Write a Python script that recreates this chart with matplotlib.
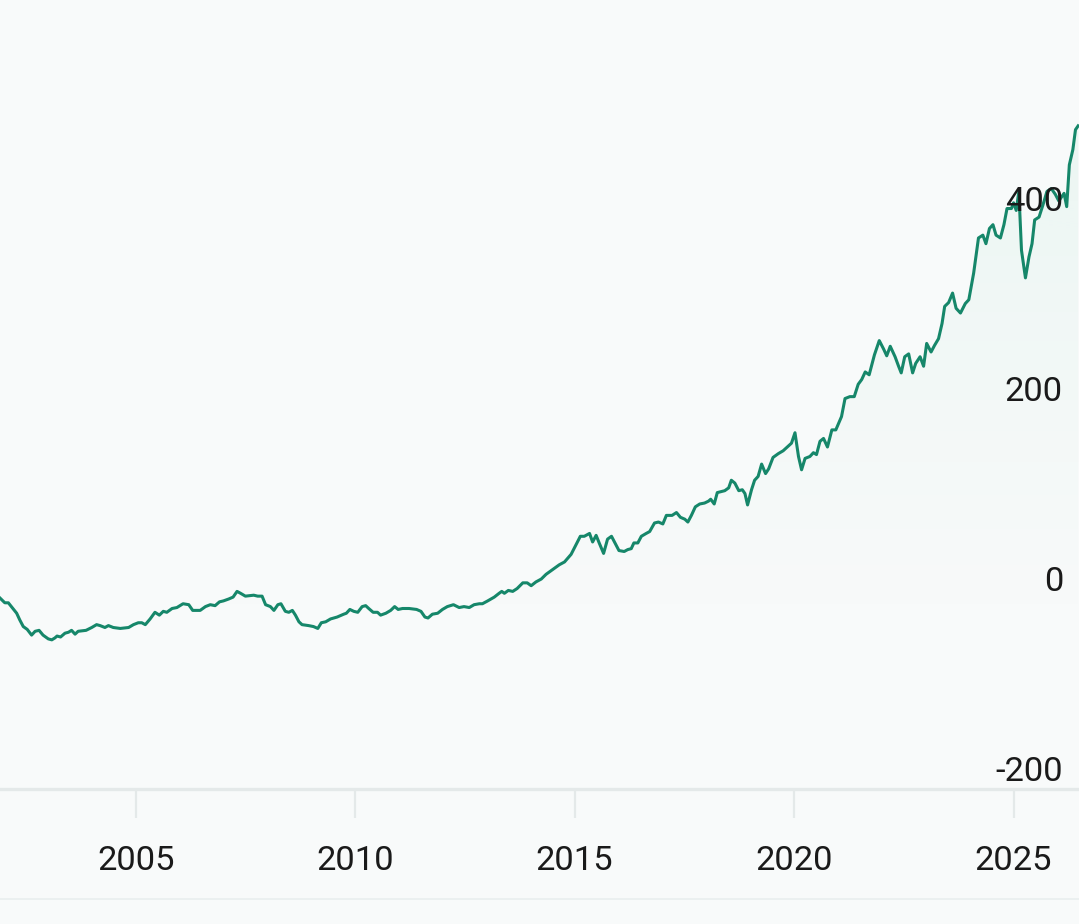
import numpy as np
import matplotlib
matplotlib.use("Agg")
import matplotlib.pyplot as plt
from matplotlib.lines import Line2D
from matplotlib.patches import Polygon

plt.rcParams['font.family'] = ['Roboto', 'DejaVu Sans']

# ---- data (decimal year, value) ----
years = [
    2001.91, 2002.02, 2002.10, 2002.17, 2002.29, 2002.36, 2002.44, 2002.53, 2002.63, 2002.71,
    2002.80, 2002.89, 2003.01, 2003.09, 2003.16, 2003.21, 2003.29, 2003.39, 2003.47, 2003.54,
    2003.62, 2003.69, 2003.87, 2004.00, 2004.11, 2004.19, 2004.30, 2004.38, 2004.49, 2004.65,
    2004.84, 2004.95, 2005.06, 2005.14, 2005.22, 2005.33, 2005.44, 2005.54, 2005.63, 2005.71,
    2005.83, 2005.94, 2006.08, 2006.21, 2006.30, 2006.47, 2006.59, 2006.70, 2006.81, 2006.91,
    2007.00, 2007.12, 2007.22, 2007.31, 2007.39, 2007.50, 2007.69, 2007.78, 2007.88, 2007.96,
    2008.07, 2008.15, 2008.24, 2008.31, 2008.41, 2008.49, 2008.57, 2008.64, 2008.72, 2008.79,
    2008.94, 2009.05, 2009.15, 2009.23, 2009.33, 2009.44, 2009.59, 2009.74, 2009.80, 2009.88,
    2009.97, 2010.06, 2010.16, 2010.24, 2010.31, 2010.41, 2010.51, 2010.58, 2010.70, 2010.81,
    2010.90, 2010.98, 2011.08, 2011.23, 2011.40, 2011.50, 2011.59, 2011.66, 2011.76, 2011.88,
    2011.99, 2012.10, 2012.24, 2012.37, 2012.48, 2012.60, 2012.71, 2012.83, 2012.90, 2013.02,
    2013.17, 2013.28, 2013.34, 2013.40, 2013.49, 2013.59, 2013.69, 2013.82, 2013.92, 2014.01,
    2014.12, 2014.24, 2014.35, 2014.50, 2014.65, 2014.77, 2014.92, 2015.03, 2015.13, 2015.22,
    2015.34, 2015.41, 2015.49, 2015.56, 2015.66, 2015.75, 2015.84, 2015.92, 2016.01, 2016.13,
    2016.21, 2016.29, 2016.35, 2016.44, 2016.52, 2016.63, 2016.71, 2016.82, 2016.91, 2017.01,
    2017.09, 2017.22, 2017.32, 2017.41, 2017.51, 2017.58, 2017.66, 2017.75, 2017.85, 2017.96,
    2018.05, 2018.10, 2018.18, 2018.25, 2018.34, 2018.42, 2018.51, 2018.57, 2018.65, 2018.74,
    2018.82, 2018.88, 2018.94, 2019.03, 2019.10, 2019.18, 2019.26, 2019.35, 2019.42, 2019.52,
    2019.64, 2019.75, 2019.87, 2019.94, 2020.02, 2020.10, 2020.17, 2020.25, 2020.36, 2020.44,
    2020.51, 2020.59, 2020.67, 2020.76, 2020.86, 2020.95, 2021.08, 2021.16, 2021.27, 2021.37,
    2021.46, 2021.54, 2021.62, 2021.71, 2021.83, 2021.94, 2022.04, 2022.11, 2022.19, 2022.30,
    2022.38, 2022.44, 2022.52, 2022.61, 2022.70, 2022.77, 2022.87, 2022.95, 2023.02, 2023.12,
    2023.20, 2023.29, 2023.37, 2023.43, 2023.52, 2023.61, 2023.69, 2023.79, 2023.90, 2023.98,
    2024.09, 2024.20, 2024.30, 2024.37, 2024.45, 2024.53, 2024.60, 2024.70, 2024.78, 2024.85,
    2024.95, 2025.00, 2025.06, 2025.12, 2025.18, 2025.27, 2025.35, 2025.42, 2025.48, 2025.58,
    2025.67, 2025.76, 2025.86, 2025.95, 2026.03, 2026.15, 2026.21, 2026.27, 2026.35, 2026.41,
    2026.47,
]
values = [
    1, -4, -4, -8, -15, -22, -29, -32, -38, -34,
    -33, -38, -42, -43, -41, -39, -40, -36, -35, -33,
    -37, -34, -33, -30, -27, -28, -30, -28, -30, -31,
    -30, -27, -25, -25, -27, -21, -14, -17, -13, -14,
    -10, -9, -5, -6, -12, -12, -8, -6, -7, -3,
    -2, 0, 2, 8, 6, 3, 4, 3, 3, -6,
    -8, -12, -6, -5, -13, -14, -12, -17, -24, -27,
    -28, -29, -31, -25, -24, -21, -19, -16, -15, -11,
    -13, -14, -8, -7, -10, -14, -14, -17, -15, -12,
    -8, -11, -10, -10, -11, -13, -19, -20, -16, -15,
    -11, -8, -6, -9, -8, -9, -6, -5, -5, -2,
    2, 6, 8, 6, 9, 8, 11, 17, 17, 14,
    18, 21, 26, 31, 36, 39, 47, 57, 66, 66,
    69, 60, 67, 59, 48, 63, 66, 59, 51, 50,
    52, 53, 59, 59, 66, 69, 71, 80, 81, 79,
    88, 88, 91, 86, 84, 81, 88, 97, 100, 101,
    103, 105, 100, 112, 113, 114, 117, 125, 122, 114,
    115, 111, 99, 115, 125, 129, 142, 132, 137, 149,
    153, 156, 161, 164, 175, 150, 136, 148, 150, 154,
    152, 166, 169, 160, 178, 178, 192, 211, 213, 213,
    226, 231, 239, 236, 257, 272, 263, 256, 266, 255,
    245, 238, 255, 258, 238, 248, 255, 245, 269, 260,
    267, 274, 290, 308, 312, 322, 306, 301, 311, 315,
    343, 380, 383, 374, 390, 394, 383, 380, 394, 411,
    411, 417, 409, 429, 367, 338, 360, 374, 399, 402,
    415, 429, 432, 426, 419, 427, 413, 457, 473, 494,
    498,
]
x_ticks = [2005, 2010, 2015, 2020, 2025]
x_tick_labels = ["2005", "2010", "2015", "2020", "2025"]
y_ticks = [-200, 0, 200, 400]
y_tick_labels = ["-200", "0", "200", "400"]

BG = "#f8fafa"
LINE = "#16876a"
FILL = "#34c08a"
GRID = "#e4e9e9"
TXT = "#1a1a1a"
FS = 24.8

W, H = 1079, 924
fig = plt.figure(figsize=(W / 100, H / 100), dpi=100, facecolor=BG)
ax = fig.add_axes([0, 1 - 789 / H, 1, 789 / H])
ax.set_facecolor(BG)

x = np.array(years)
y = np.array(values)
xmin, xmax = 2001.91, 2026.49
ymin, ymax = -200, 630.5

# gradient fill under the line
n = 256
t = np.linspace(0, 1, n)
c = matplotlib.colors.to_rgba(FILL)
rgba = np.zeros((n, 1, 4))
rgba[:, 0, 0] = c[0]
rgba[:, 0, 1] = c[1]
rgba[:, 0, 2] = c[2]
rgba[:, 0, 3] = 0.085 * t ** 1.2
im = ax.imshow(rgba, aspect='auto', extent=[xmin, xmax, -60, ymax],
               origin='lower', zorder=1, interpolation='bilinear')
poly_xy = np.vstack([np.column_stack([x, y]), [[x[-1], ymin], [x[0], ymin]]])
poly = Polygon(poly_xy, closed=True, facecolor='none', edgecolor='none')
ax.add_patch(poly)
im.set_clip_path(poly)
ax.set_xlim(xmin, xmax)
ax.set_ylim(ymin, ymax)

ax.plot(x, y, color=LINE, lw=2.2, zorder=3, solid_joinstyle='round')

# spines
for s in ['top', 'left', 'right']:
    ax.spines[s].set_visible(False)
ax.spines['bottom'].set_color(GRID)
ax.spines['bottom'].set_linewidth(2.4)

ax.set_xticks(x_ticks)
ax.set_xticklabels(x_tick_labels)
ax.tick_params(axis='x', length=21, width=1.6, color=GRID, pad=19,
               labelsize=FS, labelcolor=TXT)
ax.set_yticks([])

for v, lab in zip(y_ticks, y_tick_labels):
    ax.annotate(lab, xy=(1, v), xycoords=('axes fraction', 'data'),
                xytext=(-16, 1), textcoords='offset pixels',
                ha='right', va='bottom', fontsize=FS, color=TXT, zorder=4)

fig.add_artist(Line2D([0, 1], [1 - 899 / H, 1 - 899 / H], transform=fig.transFigure,
                      color="#e9eeee", lw=1.2))

fig.savefig("out.png", dpi=100, facecolor=BG)
